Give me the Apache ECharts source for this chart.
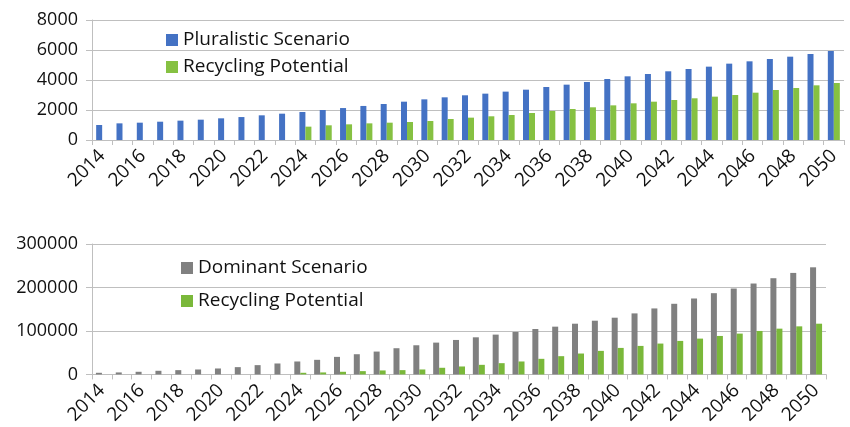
<!DOCTYPE html>
<html>
<head>
<meta charset="utf-8">
<script src="https://cdn.jsdelivr.net/npm/echarts@6/dist/echarts.min.js"></script>
<style>html,body{margin:0;padding:0;background:#fff}#c{width:850px;height:427px}</style>
</head>
<body>
<div id="c"></div>
<script>
const years = [2014,2015,2016,2017,2018,2019,2020,2021,2022,2023,2024,2025,2026,2027,2028,2029,2030,2031,2032,2033,2034,2035,2036,2037,2038,2039,2040,2041,2042,2043,2044,2045,2046,2047,2048,2049,2050].map(String);
const pluralistic = [1000,1110,1155,1220,1290,1355,1445,1530,1645,1755,1865,2000,2130,2270,2400,2555,2710,2845,2980,3090,3225,3355,3535,3690,3865,4065,4245,4400,4580,4735,4890,5090,5245,5400,5555,5735,5935];
const recyclingPluralistic = [null,null,null,null,null,null,null,null,null,null,890,980,1045,1110,1155,1200,1265,1400,1490,1580,1665,1800,1935,2065,2180,2310,2445,2555,2665,2780,2890,3000,3155,3335,3465,3645,3800];
const dominant = [3800,4600,6100,8400,9900,11400,13700,16800,21400,25200,29800,33600,40400,46500,52600,60300,67100,73200,79300,85400,91600,97700,104500,109900,116700,123600,130500,140400,151800,162500,174700,186900,197600,209100,221300,233500,246400];
const recyclingDominant = [null,null,null,null,null,null,null,null,null,null,3800,4600,6100,7600,9200,9900,11400,15300,18300,22100,25900,29800,35900,42000,48100,54200,61000,65600,71000,77100,82400,88500,93900,100000,105300,110600,116700];

const FONT = 'Open Sans';
const axisColor = '#BFBFBF';
const chart = echarts.init(document.getElementById('c'), null, {renderer:'canvas'});
function xAxis(gi){
  return {
    type:'category', gridIndex:gi, data:years,
    axisLine:{show:true, lineStyle:{color:axisColor, width:1}},
    axisTick:{show:true, alignWithLabel:false, interval:0, length:5, lineStyle:{color:axisColor}},
    axisLabel:{interval:1, rotate:45, fontSize:19, fontFamily:FONT, color:'#111', margin:13}
  };
}
function yAxis(gi, max, interval){
  return {
    type:'value', gridIndex:gi, min:0, max:max, interval:interval,
    axisLine:{show:true, lineStyle:{color:axisColor, width:1}},
    axisTick:{show:true, length:6, lineStyle:{color:axisColor}},
    splitLine:{show:true, lineStyle:{color:axisColor, width:1}},
    axisLabel:{fontSize:18, fontFamily:FONT, color:'#111', margin:14, formatter:function(v){return String(v);}}
  };
}
chart.setOption({
  animation:false,
  grid:[
    {left:92, right:6, top:20, height:120},
    {left:92, right:24, top:244, height:131}
  ],
  xAxis:[xAxis(0), xAxis(1)],
  yAxis:[yAxis(0, 8000, 2000), yAxis(1, 300000, 100000)],
  legend:[
    {orient:'vertical', left:161, top:25, itemWidth:12, itemHeight:12, itemGap:7, icon:'rect',
     textStyle:{fontSize:19, fontFamily:FONT, color:'#111', lineHeight:20},
     data:['Pluralistic Scenario','Recycling Potential']},
    {orient:'vertical', left:176, top:253, itemWidth:12, itemHeight:12, itemGap:13, icon:'rect',
     textStyle:{fontSize:19, fontFamily:FONT, color:'#111', lineHeight:20},
     data:['Dominant Scenario','Recycling Potential ']}
  ],
  series:[
    {name:'Pluralistic Scenario', type:'bar', xAxisIndex:0, yAxisIndex:0, data:pluralistic, barWidth:6, barGap:'0%', itemStyle:{color:'#4472C4'}},
    {name:'Recycling Potential', type:'bar', xAxisIndex:0, yAxisIndex:0, data:recyclingPluralistic, barWidth:6, barGap:'0%', itemStyle:{color:'#86C142'}},
    {name:'Dominant Scenario', type:'bar', xAxisIndex:1, yAxisIndex:1, data:dominant, barWidth:6, barGap:'0%', itemStyle:{color:'#808080'}},
    {name:'Recycling Potential ', type:'bar', xAxisIndex:1, yAxisIndex:1, data:recyclingDominant, barWidth:6, barGap:'0%', itemStyle:{color:'#7AB83A'}}
  ]
});
</script>
</body>
</html>
